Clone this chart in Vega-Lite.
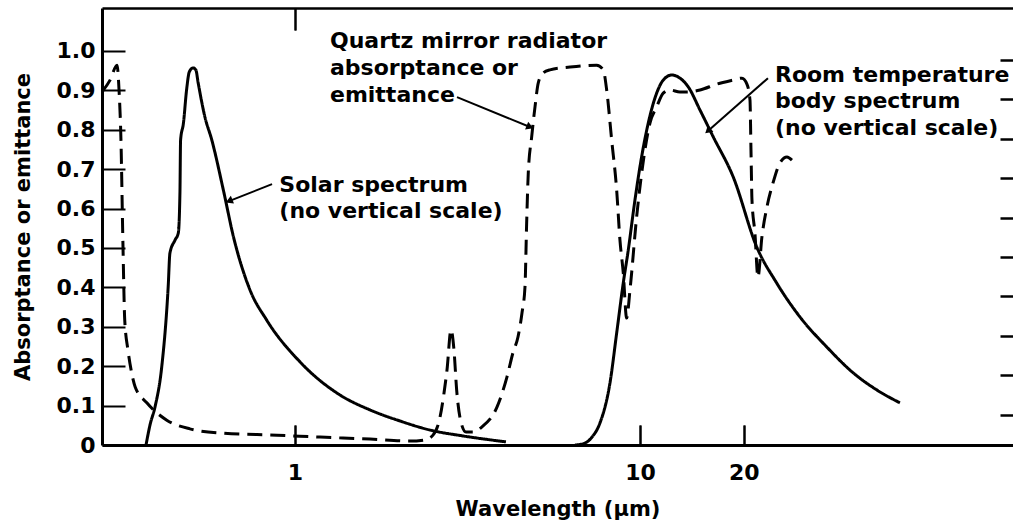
{
  "$schema": "https://vega.github.io/schema/vega-lite/v6.json",
  "width": 911,
  "height": 437,
  "autosize": {"type": "none"},
  "padding": {"left": 102, "top": 8, "right": 0, "bottom": 84},
  "background": "white",
  "config": {"view": {"stroke": null}, "font": "DejaVu Sans"},
  "datasets": {
    "curves": [
      {"s": "Solar", "i": 1, "lam": 0.370, "v": 0.0},
      {"s": "Solar", "i": 2, "lam": 0.380, "v": 0.051},
      {"s": "Solar", "i": 3, "lam": 0.393, "v": 0.097},
      {"s": "Solar", "i": 4, "lam": 0.411, "v": 0.199},
      {"s": "Solar", "i": 5, "lam": 0.429, "v": 0.402},
      {"s": "Solar", "i": 6, "lam": 0.434, "v": 0.487},
      {"s": "Solar", "i": 7, "lam": 0.449, "v": 0.520},
      {"s": "Solar", "i": 8, "lam": 0.459, "v": 0.538},
      {"s": "Solar", "i": 9, "lam": 0.464, "v": 0.640},
      {"s": "Solar", "i": 10, "lam": 0.466, "v": 0.774},
      {"s": "Solar", "i": 11, "lam": 0.475, "v": 0.817},
      {"s": "Solar", "i": 12, "lam": 0.485, "v": 0.901},
      {"s": "Solar", "i": 13, "lam": 0.494, "v": 0.947},
      {"s": "Solar", "i": 14, "lam": 0.506, "v": 0.957},
      {"s": "Solar", "i": 15, "lam": 0.516, "v": 0.952},
      {"s": "Solar", "i": 16, "lam": 0.524, "v": 0.919},
      {"s": "Solar", "i": 17, "lam": 0.548, "v": 0.833},
      {"s": "Solar", "i": 18, "lam": 0.574, "v": 0.774},
      {"s": "Solar", "i": 19, "lam": 0.620, "v": 0.647},
      {"s": "Solar", "i": 20, "lam": 0.663, "v": 0.529},
      {"s": "Solar", "i": 21, "lam": 0.741, "v": 0.393},
      {"s": "Solar", "i": 22, "lam": 0.828, "v": 0.317},
      {"s": "Solar", "i": 23, "lam": 1.034, "v": 0.211},
      {"s": "Solar", "i": 24, "lam": 1.350, "v": 0.127},
      {"s": "Solar", "i": 25, "lam": 1.650, "v": 0.089},
      {"s": "Solar", "i": 26, "lam": 2.015, "v": 0.061},
      {"s": "Solar", "i": 27, "lam": 2.462, "v": 0.038},
      {"s": "Solar", "i": 28, "lam": 3.069, "v": 0.023},
      {"s": "Solar", "i": 29, "lam": 4.088, "v": 0.008},

      {"s": "Quartz", "i": 1, "lam": 0.276, "v": 0.896},
      {"s": "Quartz", "i": 2, "lam": 0.291, "v": 0.926},
      {"s": "Quartz", "i": 3, "lam": 0.305, "v": 0.964},
      {"s": "Quartz", "i": 4, "lam": 0.309, "v": 0.901},
      {"s": "Quartz", "i": 5, "lam": 0.313, "v": 0.774},
      {"s": "Quartz", "i": 6, "lam": 0.317, "v": 0.520},
      {"s": "Quartz", "i": 7, "lam": 0.321, "v": 0.317},
      {"s": "Quartz", "i": 8, "lam": 0.328, "v": 0.241},
      {"s": "Quartz", "i": 9, "lam": 0.335, "v": 0.190},
      {"s": "Quartz", "i": 10, "lam": 0.344, "v": 0.148},
      {"s": "Quartz", "i": 11, "lam": 0.372, "v": 0.107},
      {"s": "Quartz", "i": 12, "lam": 0.425, "v": 0.063},
      {"s": "Quartz", "i": 13, "lam": 0.496, "v": 0.041},
      {"s": "Quartz", "i": 14, "lam": 0.618, "v": 0.030},
      {"s": "Quartz", "i": 15, "lam": 0.887, "v": 0.025},
      {"s": "Quartz", "i": 16, "lam": 1.182, "v": 0.020},
      {"s": "Quartz", "i": 17, "lam": 1.650, "v": 0.015},
      {"s": "Quartz", "i": 18, "lam": 2.154, "v": 0.010},
      {"s": "Quartz", "i": 19, "lam": 2.380, "v": 0.013},
      {"s": "Quartz", "i": 20, "lam": 2.512, "v": 0.025},
      {"s": "Quartz", "i": 21, "lam": 2.633, "v": 0.071},
      {"s": "Quartz", "i": 22, "lam": 2.704, "v": 0.132},
      {"s": "Quartz", "i": 23, "lam": 2.758, "v": 0.190},
      {"s": "Quartz", "i": 24, "lam": 2.833, "v": 0.292},
      {"s": "Quartz", "i": 25, "lam": 2.890, "v": 0.241},
      {"s": "Quartz", "i": 26, "lam": 2.942, "v": 0.140},
      {"s": "Quartz", "i": 27, "lam": 3.028, "v": 0.058},
      {"s": "Quartz", "i": 28, "lam": 3.131, "v": 0.033},
      {"s": "Quartz", "i": 29, "lam": 3.281, "v": 0.033},
      {"s": "Quartz", "i": 30, "lam": 3.483, "v": 0.046},
      {"s": "Quartz", "i": 31, "lam": 3.850, "v": 0.096},
      {"s": "Quartz", "i": 32, "lam": 4.117, "v": 0.173},
      {"s": "Quartz", "i": 33, "lam": 4.284, "v": 0.234},
      {"s": "Quartz", "i": 34, "lam": 4.430, "v": 0.274},
      {"s": "Quartz", "i": 35, "lam": 4.550, "v": 0.335},
      {"s": "Quartz", "i": 36, "lam": 4.642, "v": 0.401},
      {"s": "Quartz", "i": 37, "lam": 4.694, "v": 0.563},
      {"s": "Quartz", "i": 38, "lam": 4.745, "v": 0.690},
      {"s": "Quartz", "i": 39, "lam": 4.854, "v": 0.782},
      {"s": "Quartz", "i": 40, "lam": 4.963, "v": 0.858},
      {"s": "Quartz", "i": 41, "lam": 5.073, "v": 0.919},
      {"s": "Quartz", "i": 42, "lam": 5.245, "v": 0.944},
      {"s": "Quartz", "i": 43, "lam": 5.484, "v": 0.952},
      {"s": "Quartz", "i": 44, "lam": 6.268, "v": 0.959},
      {"s": "Quartz", "i": 45, "lam": 7.489, "v": 0.964},
      {"s": "Quartz", "i": 46, "lam": 7.827, "v": 0.952},
      {"s": "Quartz", "i": 47, "lam": 8.008, "v": 0.901},
      {"s": "Quartz", "i": 48, "lam": 8.279, "v": 0.774},
      {"s": "Quartz", "i": 49, "lam": 8.560, "v": 0.647},
      {"s": "Quartz", "i": 50, "lam": 8.750, "v": 0.520},
      {"s": "Quartz", "i": 51, "lam": 8.945, "v": 0.437},
      {"s": "Quartz", "i": 52, "lam": 9.150, "v": 0.322},
      {"s": "Quartz", "i": 53, "lam": 9.355, "v": 0.393},
      {"s": "Quartz", "i": 54, "lam": 9.781, "v": 0.579},
      {"s": "Quartz", "i": 55, "lam": 10.34, "v": 0.749},
      {"s": "Quartz", "i": 56, "lam": 10.69, "v": 0.817},
      {"s": "Quartz", "i": 57, "lam": 11.18, "v": 0.858},
      {"s": "Quartz", "i": 58, "lam": 11.68, "v": 0.893},
      {"s": "Quartz", "i": 59, "lam": 12.22, "v": 0.901},
      {"s": "Quartz", "i": 60, "lam": 13.06, "v": 0.896},
      {"s": "Quartz", "i": 61, "lam": 13.69, "v": 0.896},
      {"s": "Quartz", "i": 62, "lam": 14.93, "v": 0.901},
      {"s": "Quartz", "i": 63, "lam": 16.72, "v": 0.916},
      {"s": "Quartz", "i": 64, "lam": 18.61, "v": 0.926},
      {"s": "Quartz", "i": 65, "lam": 19.76, "v": 0.931},
      {"s": "Quartz", "i": 66, "lam": 20.42, "v": 0.916},
      {"s": "Quartz", "i": 67, "lam": 20.84, "v": 0.876},
      {"s": "Quartz", "i": 68, "lam": 20.98, "v": 0.749},
      {"s": "Quartz", "i": 69, "lam": 21.12, "v": 0.622},
      {"s": "Quartz", "i": 70, "lam": 21.54, "v": 0.538},
      {"s": "Quartz", "i": 71, "lam": 21.98, "v": 0.426},
      {"s": "Quartz", "i": 72, "lam": 22.57, "v": 0.528},
      {"s": "Quartz", "i": 73, "lam": 23.34, "v": 0.604},
      {"s": "Quartz", "i": 74, "lam": 24.30, "v": 0.665},
      {"s": "Quartz", "i": 75, "lam": 25.46, "v": 0.716},
      {"s": "Quartz", "i": 76, "lam": 26.68, "v": 0.731},
      {"s": "Quartz", "i": 77, "lam": 27.58, "v": 0.723},

      {"s": "Room", "i": 1, "lam": 6.480, "v": 0.0},
      {"s": "Room", "i": 2, "lam": 6.836, "v": 0.003},
      {"s": "Room", "i": 3, "lam": 7.259, "v": 0.020},
      {"s": "Room", "i": 4, "lam": 7.658, "v": 0.056},
      {"s": "Room", "i": 5, "lam": 8.185, "v": 0.157},
      {"s": "Room", "i": 6, "lam": 8.560, "v": 0.284},
      {"s": "Room", "i": 7, "lam": 8.945, "v": 0.411},
      {"s": "Room", "i": 8, "lam": 9.250, "v": 0.495},
      {"s": "Room", "i": 9, "lam": 9.672, "v": 0.622},
      {"s": "Room", "i": 10, "lam": 10.11, "v": 0.731},
      {"s": "Room", "i": 11, "lam": 10.57, "v": 0.817},
      {"s": "Room", "i": 12, "lam": 11.18, "v": 0.893},
      {"s": "Room", "i": 13, "lam": 11.68, "v": 0.926},
      {"s": "Room", "i": 14, "lam": 12.36, "v": 0.939},
      {"s": "Room", "i": 15, "lam": 13.06, "v": 0.931},
      {"s": "Room", "i": 16, "lam": 13.80, "v": 0.909},
      {"s": "Room", "i": 17, "lam": 14.93, "v": 0.850},
      {"s": "Room", "i": 18, "lam": 16.31, "v": 0.782},
      {"s": "Room", "i": 19, "lam": 18.64, "v": 0.680},
      {"s": "Room", "i": 20, "lam": 21.79, "v": 0.503},
      {"s": "Room", "i": 21, "lam": 24.91, "v": 0.411},
      {"s": "Room", "i": 22, "lam": 29.09, "v": 0.325},
      {"s": "Room", "i": 23, "lam": 34.77, "v": 0.249},
      {"s": "Room", "i": 24, "lam": 41.52, "v": 0.183},
      {"s": "Room", "i": 25, "lam": 48.54, "v": 0.140},
      {"s": "Room", "i": 26, "lam": 56.69, "v": 0.107}
    ],
    "notes": [
      {"k": "Quartz", "lam": 1.263, "v": 1.007, "label": ["Quartz mirror radiator", "absorptance or", "emittance"]},
      {"k": "Solar", "lam": 0.901, "v": 0.643, "label": ["Solar spectrum", "(no vertical scale)"]},
      {"k": "Room", "lam": 24.62, "v": 0.922, "label": ["Room temperature", "body spectrum", "(no vertical scale)"]}
    ],
    "leaders": [
      {"k": "Quartz", "lam": 2.949, "v": 0.883, "lam2": 4.800, "v2": 0.807},
      {"k": "Solar", "lam": 0.858, "v": 0.662, "lam2": 0.644, "v2": 0.619},
      {"k": "Room", "lam": 23.50, "v": 0.931, "lam2": 15.74, "v2": 0.797}
    ]
  },
  "resolve": {"axis": {"x": "independent", "y": "independent"}},
  "layer": [
    {
      "data": {"name": "curves"},
      "mark": {"type": "line", "color": "black", "strokeWidth": 3, "strokeJoin": "round", "strokeCap": "butt", "interpolate": "monotone", "clip": true},
      "encoding": {
        "x": {
          "field": "lam", "type": "quantitative",
          "scale": {"type": "log", "domain": [0.2758, 120.6], "nice": false},
          "axis": {
            "orient": "bottom", "values": [1, 10, 20], "format": "d", "grid": false,
            "domainColor": "black", "domainWidth": 3,
            "tickColor": "black", "tickWidth": 2, "tickSize": -20,
            "labelFont": "DejaVu Sans", "labelFontSize": 22, "labelFontWeight": "bold", "labelColor": "black",
            "labelPadding": 37, "labelBaseline": "top",
            "title": "Wavelength (µm)", "titleFont": "DejaVu Sans", "titleFontSize": 21, "titleFontWeight": "bold",
            "titleColor": "black", "titleBaseline": "top", "titleY": 53
          }
        },
        "y": {
          "field": "v", "type": "quantitative",
          "scale": {"domain": [0, 1.109], "nice": false, "zero": false},
          "axis": {
            "orient": "left", "values": [0, 0.1, 0.2, 0.3, 0.4, 0.5, 0.6, 0.7, 0.8, 0.9, 1.0],
            "labelExpr": "datum.value == 0 ? '0' : format(datum.value, '.1f')", "grid": false,
            "domainColor": "black", "domainWidth": 3,
            "tickColor": "black", "tickWidth": 2, "tickSize": -23,
            "labelFont": "DejaVu Sans", "labelFontSize": 22, "labelFontWeight": "bold", "labelColor": "black",
            "labelPadding": 30,
            "title": "Absorptance or emittance", "titleFont": "DejaVu Sans", "titleFontSize": 21, "titleFontWeight": "bold",
            "titleColor": "black", "titleBaseline": "alphabetic", "titleX": -73
          }
        },
        "detail": {"field": "s"},
        "order": {"field": "i", "type": "quantitative"},
        "strokeDash": {
          "field": "s", "type": "nominal",
          "scale": {"domain": ["Solar", "Quartz", "Room"], "range": [[1, 0], [15, 8], [1, 0]]},
          "legend": null
        }
      }
    },
    {
      "data": {"name": "leaders"},
      "mark": {"type": "rule", "color": "black", "strokeWidth": 2},
      "encoding": {
        "x": {
          "field": "lam", "type": "quantitative",
          "axis": {
            "orient": "top", "values": [1], "labels": false, "title": null, "grid": false,
            "domainColor": "black", "domainWidth": 2.5,
            "tickColor": "black", "tickWidth": 2, "tickSize": -22
          }
        },
        "y": {
          "field": "v", "type": "quantitative",
          "axis": {
            "orient": "right", "values": [0.1, 0.2, 0.3, 0.4, 0.5, 0.6, 0.7, 0.8, 0.9, 1.0],
            "labels": false, "title": null, "grid": false, "domain": false,
            "tickColor": "black", "tickWidth": 2.5, "tickSize": -13, "tickOffset": 9
          }
        },
        "x2": {"field": "lam2"},
        "y2": {"field": "v2"}
      }
    },
    {
      "data": {"name": "leaders"},
      "transform": [{"filter": "datum.k == 'Quartz'"}],
      "mark": {"type": "point", "shape": "triangle-right", "filled": true, "color": "black", "opacity": 1, "size": 70, "angle": 22},
      "encoding": {
        "x": {
          "field": "lam2", "type": "quantitative",
          "axis": {
            "orient": "top", "offset": -437, "values": [1, 10, 20], "labels": false, "domain": false,
            "title": null, "grid": false, "tickColor": "black", "tickWidth": 2, "tickSize": 20
          }
        },
        "y": {"field": "v2", "type": "quantitative", "axis": null}
      }
    },
    {
      "data": {"name": "leaders"},
      "transform": [{"filter": "datum.k == 'Solar'"}],
      "mark": {"type": "point", "shape": "triangle-right", "filled": true, "color": "black", "opacity": 1, "size": 70, "angle": 158},
      "encoding": {
        "x": {
          "field": "lam2", "type": "quantitative",
          "axis": {
            "orient": "bottom", "offset": -437, "values": [1], "labels": false, "domain": false,
            "title": null, "grid": false, "tickColor": "black", "tickWidth": 2, "tickSize": 22
          }
        },
        "y": {"field": "v2", "type": "quantitative", "axis": null}
      }
    },
    {
      "data": {"name": "leaders"},
      "transform": [{"filter": "datum.k == 'Room'"}],
      "mark": {"type": "point", "shape": "triangle-right", "filled": true, "color": "black", "opacity": 1, "size": 70, "angle": 138},
      "encoding": {
        "x": {"field": "lam2", "type": "quantitative", "axis": null},
        "y": {"field": "v2", "type": "quantitative", "axis": null}
      }
    },
    {
      "data": {"name": "notes"},
      "mark": {"type": "text", "align": "left", "baseline": "alphabetic", "font": "DejaVu Sans", "fontSize": 22, "fontWeight": "bold", "lineHeight": 26.7, "color": "black"},
      "encoding": {
        "x": {"field": "lam", "type": "quantitative", "axis": null},
        "y": {"field": "v", "type": "quantitative", "axis": null},
        "text": {"field": "label"}
      }
    }
  ]
}
